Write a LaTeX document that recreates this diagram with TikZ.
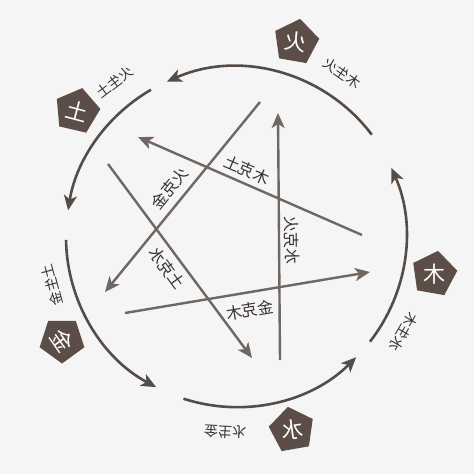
\documentclass[tikz,border=0pt]{standalone}
\usepackage{fontspec}
\usepackage{graphicx}
\newfontfamily\cjk{Noto Sans CJK SC}
\usetikzlibrary{shapes.geometric,arrows.meta}
\definecolor{bg}{RGB}{245,245,245}
\definecolor{arcc}{RGB}{86,76,70}
\definecolor{linec}{RGB}{112,103,98}
\definecolor{pent}{RGB}{92,78,70}
\definecolor{txt}{RGB}{58,50,46}
\begin{document}
\begin{tikzpicture}[x=1pt,y=1pt,
  rim/.style={draw=arcc, line width=2.6pt, -{Stealth[length=15pt,width=13pt,inset=4pt]}},
  kline/.style={draw=linec, line width=2.4pt, -{Stealth[length=15pt,width=13pt,inset=4pt]}},
  pentbox/.style={regular polygon, regular polygon sides=5, fill=pent, minimum size=47pt, inner sep=0pt},
  glyph/.style={text=white, font=\cjk\fontsize{22}{22}\selectfont, inner sep=0pt},
  rimlab/.style={text=txt, font=\cjk\fontsize{14}{14}\selectfont, inner sep=0pt},
  klab/.style={text=txt, font=\cjk\fontsize{16}{16}\selectfont, inner sep=0pt},
]
\fill[bg] (-237,-237) rectangle (237,237);
\useasboundingbox (-237,-237) rectangle (237,237);
\coordinate (C) at (-1,0);
% outer cycle arcs
\coordinate (s1) at ([shift={(-1,0)}]37:170);
\coordinate (s2) at ([shift={(-1,0)}]120:170);
\coordinate (s3) at ([shift={(-1,0)}]181:170);
\coordinate (s4) at ([shift={(-1,0)}]252:170);
\coordinate (s5) at ([shift={(-1,0)}]322:170);
\draw[rim] (s1) arc[start angle=37,end angle=114,radius=170];
\draw[rim] (s2) arc[start angle=120,end angle=171,radius=170];
\draw[rim] (s3) arc[start angle=181,end angle=242,radius=170];
\draw[rim] (s4) arc[start angle=252,end angle=315,radius=170];
\draw[rim] (s5) arc[start angle=322,end angle=384,radius=170];
% pentagons
\node[pentbox, rotate=-10] (pfire)  at (59,195) {};
\node[pentbox, rotate=-13] (pearth) at (-160,126) {};
\node[pentbox, rotate=180] (pmetal) at (-175,-103) {};
\node[pentbox, rotate=10]  (pwater) at (55,-193) {};
\node[pentbox, rotate=-10] (pwood)  at (197,-37) {};
\node[glyph, rotate=-8]  (gfire)  at (pfire)  {\reflectbox{火}};
\node[glyph, rotate=-15] (gearth) at (pearth) {\reflectbox{土}};
\node[glyph, rotate=-55] (gmetal) at (pmetal) {\reflectbox{金}};
\node[glyph, rotate=8]   (gwater) at (pwater) {\reflectbox{水}};
\node[glyph, rotate=0]   (gwood)  at (pwood)  {\reflectbox{木}};
% generating labels
\node[rimlab, rotate=-35] (r1) at (105,164)  {\reflectbox{木生火}};
\node[rimlab, rotate=37]  (r2) at (-122,155) {\reflectbox{火生土}};
\node[rimlab, rotate=105] (r3) at (-185,-48) {\reflectbox{土生金}};
\node[rimlab, rotate=177] (r4) at (-12,-195) {\reflectbox{金生水}};
\node[rimlab, rotate=-120](r5) at (167,-95)  {\reflectbox{水生木}};
% overcoming lines
\coordinate (a0) at (23,135);   \coordinate (a1) at (-132,-55);
\coordinate (b0) at (125,2);    \coordinate (b1) at (-99,100);
\coordinate (c0) at (43,-123);  \coordinate (c1) at (41,124);
\coordinate (d0) at (-112,-76); \coordinate (d1) at (133,-35);
\coordinate (e0) at (-129,73);  \coordinate (e1) at (15,-121);
\draw[kline] (a0) -- (a1);
\draw[kline] (b0) -- (b1);
\draw[kline] (c0) -- (c1);
\draw[kline] (d0) -- (d1);
\draw[kline] (e0) -- (e1);
\node[klab, rotate=51]    (ka) at (-67,49)  {\reflectbox{火克金}};
\node[klab, rotate=-23.6] (kb) at (10,67)   {\reflectbox{木克土}};
\node[klab, rotate=-89.5] (kc) at (55,-3)   {\reflectbox{水克火}};
\node[klab, rotate=9.6]   (kd) at (13,-73)  {\reflectbox{金克木}};
\node[klab, rotate=-54]   (ke) at (-70,-31) {\reflectbox{土克水}};
\end{tikzpicture}
\end{document}
